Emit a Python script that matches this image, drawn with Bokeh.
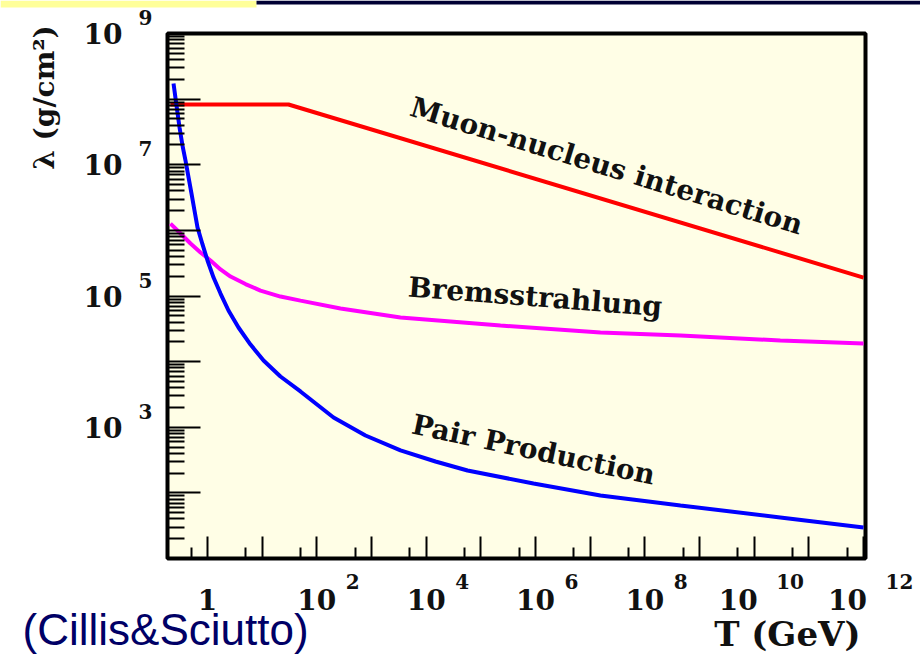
import math
from bokeh.plotting import figure
from bokeh.models import (Label, FixedTicker, BoxAnnotation, Range1d, LogAxis,
                          CustomJSTickFormatter)
from bokeh.embed import file_html
from bokeh.resources import INLINE

# ---------------- data ----------------
# Pair production
T_pair = [0.239, 0.271, 0.308, 0.349, 0.396, 0.450, 0.509, 0.578, 0.656, 0.811,
          1.0, 1.29, 1.73, 2.42, 3.69, 6.12, 10.6, 21.6, 50.2, 202, 776, 3390,
          1.48e4, 5.70e4, 9.18e5, 1.54e7, 4.49e8, 3.0e10, 1.0e12]
lam_pair = [1.73e8, 8.0e7, 3.70e7, 1.96e7, 1.16e7, 6.40e6, 3.65e6, 2.01e6, 1.11e6,
            6.10e5, 3.48e5, 1.91e5, 1.09e5, 6.01e4, 3.31e4, 1.82e4, 1.04e4, 5930,
            3510, 1410, 748, 443, 301, 219, 139, 91.2, 64.3, 42.2, 29.6]
# Bremsstrahlung
T_brems = [0.210, 0.321, 0.489, 0.745, 1.135, 1.73, 2.64, 4.95, 9.31, 21.6, 50.2,
           271, 3390, 2.79e4, 2.29e5, 1.54e7, 4.49e8, 3.0e10, 1.0e12]
lam_brems = [1.27e6, 8.95e5, 6.31e5, 4.60e5, 3.48e5, 2.54e5, 1.98e5, 1.52e5, 1.21e5,
             9.8e4, 8.5e4, 6.46e4, 4.70e4, 4.08e4, 3.55e4, 2.78e4, 2.50e4, 2.10e4,
             1.89e4]
# Muon-nucleus interaction
T_muon = [0.21, 30.3, 1.0e12]
lam_muon = [8.28e7, 8.28e7, 1.91e5]

# axis ticks / labels (decade exponents)
x_major_exp = list(range(0, 13))
x_minor_mant = [5]
x_label_exp = [0, 2, 4, 6, 8, 10, 12]
y_major_exp = list(range(1, 10))
y_minor_mant = [2, 3, 4, 5, 6, 7, 8, 9]
y_label_exp = [3, 5, 7, 9]

curve_labels = ["Muon-nucleus interaction", "Bremsstrahlung", "Pair Production"]
curve_label_pos = [(4750, 5.62e7), (4550, 9.8e4), (5160, 804)]   # start of baseline
curve_label_angle = [-17, -4.5, -12]
x_title = "T (GeV)"
y_title = "λ (g/cm²)"
credit = "(Cillis&Sciutto)"

# ---------------- page geometry (pixels) ----------------
W, H = 920, 654
FL, FR, FT, FB = 167, 865, 33, 558          # visible plot box
X_ONE_PX, X_PPD = 207.0, 54.67               # pixel of T=1, pixels per decade
Y_TOP_PX, Y_PPD = 33.0, 65.625               # pixel of lambda=1e9, pixels per decade
MID = 0.346                                  # em-box middle above the baseline


def px2x(px):
    return 10 ** ((px - X_ONE_PX) / X_PPD)


def py2y(py):
    return 10 ** (9 - (py - Y_TOP_PX) / Y_PPD)


def x2px(x):
    return X_ONE_PX + math.log10(x) * X_PPD


def y2py(y):
    return Y_TOP_PX + (9 - math.log10(y)) * Y_PPD


XMIN, XMAX = px2x(FL), px2x(FR)
YMIN, YMAX = py2y(FB), py2y(FT)

SERIF = "DejaVu Serif"
INK = "#111111"

p = figure(width=W, height=H, x_axis_type="log", y_axis_type="log",
           x_axis_location=None, y_axis_location=None,
           x_range=Range1d(px2x(0), px2x(W)), y_range=Range1d(py2y(H), py2y(0)),
           output_backend="svg", toolbar_location=None,
           min_border=0, min_border_left=0, min_border_right=0,
           min_border_top=0, min_border_bottom=0)
p.background_fill_color = "white"
p.border_fill_color = "white"
p.outline_line_color = None
p.grid.visible = False

# plot box
p.quad(left=[XMIN], right=[XMAX], bottom=[YMIN], top=[YMAX],
       fill_color="#fffee6", line_color="black", line_width=4)

blank = CustomJSTickFormatter(code="return ''")

xa = LogAxis(fixed_location=YMIN, bounds=(XMIN, XMAX),
             ticker=FixedTicker(ticks=[10.0 ** e for e in x_major_exp],
                                minor_ticks=[m * 10.0 ** e for e in range(-1, 12)
                                             for m in x_minor_mant]),
             formatter=blank, major_label_standoff=0,
             major_tick_in=22, major_tick_out=0, minor_tick_in=11, minor_tick_out=0,
             major_tick_line_width=2, minor_tick_line_width=2,
             major_tick_line_color="black", minor_tick_line_color="black",
             axis_line_color=None)
p.add_layout(xa, "below")

ya = LogAxis(fixed_location=XMIN, bounds=(YMIN, YMAX),
             ticker=FixedTicker(ticks=[10.0 ** e for e in y_major_exp],
                                minor_ticks=[m * 10.0 ** e for e in range(1, 9)
                                             for m in y_minor_mant]),
             formatter=blank, major_label_standoff=0,
             major_tick_in=33, major_tick_out=0, minor_tick_in=17, minor_tick_out=0,
             major_tick_line_width=2, minor_tick_line_width=2,
             major_tick_line_color="black", minor_tick_line_color="black",
             axis_line_color=None)
p.add_layout(ya, "left")

# ---------------- curves ----------------
p.line(T_muon, lam_muon, line_color="#ff0000", line_width=4)
p.line(T_brems, lam_brems, line_color="#ff00ff", line_width=4)
p.line(T_pair, lam_pair, line_color="#0000ff", line_width=4)

# ---------------- curve labels (anchored on the text mid-line) ----------------
LAB_FS = 28
for txt, (lx, ly), ang in zip(curve_labels, curve_label_pos, curve_label_angle):
    a = math.radians(-ang)
    sx = x2px(lx) + MID * LAB_FS * math.sin(a)
    sy = y2py(ly) - MID * LAB_FS * math.cos(a)
    p.add_layout(Label(x=px2x(sx), y=py2y(sy), text=txt, angle=ang, angle_units="deg",
                       text_font=SERIF, text_font_style="bold",
                       text_font_size=f"{LAB_FS}px", text_color=INK,
                       text_align="left", text_baseline="middle"))

# ---------------- tick labels ----------------
BIG_FS, SMALL_FS = 28, 20
big = dict(text_font=SERIF, text_font_style="bold", text_font_size=f"{BIG_FS}px",
           text_color=INK, text_baseline="middle")
small = dict(text_font=SERIF, text_font_style="bold", text_font_size=f"{SMALL_FS}px",
             text_color=INK, text_align="left", text_baseline="middle")

X_BASE_Y = py2y(609 - MID * BIG_FS)     # "10" baseline at 609 px
X_EXP_Y = py2y(588 - MID * SMALL_FS)    # exponent baseline at 588 px
for e in x_label_exp:
    xv = 10.0 ** e
    if e == 0:
        p.add_layout(Label(x=xv, y=X_BASE_Y, text="1", text_align="center", **big))
        continue
    two = len(str(e)) > 1
    p.add_layout(Label(x=xv, y=X_BASE_Y, text="10", x_offset=-16 if two else 0,
                       text_align="center", **big))
    p.add_layout(Label(x=xv, y=X_EXP_Y, text=str(e), x_offset=22 if two else 29,
                       **small))

for e in y_label_exp:
    yv = 10.0 ** e
    p.add_layout(Label(x=px2x(122), y=yv, text="10", text_align="right", **big))
    p.add_layout(Label(x=px2x(138), y=yv * 10 ** (16 / Y_PPD), text=str(e), **small))

# ---------------- axis titles / credit ----------------
p.add_layout(Label(x=px2x(860), y=py2y(645 - MID * 34), text=x_title,
                   text_align="right", text_baseline="middle", text_font=SERIF,
                   text_font_style="bold", text_font_size="34px", text_color=INK))
p.add_layout(Label(x=px2x(44), y=py2y(97), text=y_title, angle=90,
                   angle_units="deg", text_align="center", text_baseline="middle",
                   text_font=SERIF, text_font_style="bold", text_font_size="28px",
                   text_color=INK))
p.add_layout(Label(x=px2x(22), y=py2y(644 - MID * 44), text=credit, text_align="left",
                   text_baseline="middle", text_font="Liberation Sans",
                   text_font_size="44px", text_color="#000066"))

# ---------------- slide decoration (top bar) ----------------
p.add_layout(BoxAnnotation(left=px2x(0), right=px2x(256), top=py2y(0),
                           bottom=py2y(7), fill_color="#ffff99", fill_alpha=1,
                           line_color=None))
p.add_layout(BoxAnnotation(left=px2x(256), right=px2x(W), top=py2y(0),
                           bottom=py2y(4), fill_color="#000033", fill_alpha=1,
                           line_color=None))

open("out.html", "w").write(file_html(p, INLINE))
